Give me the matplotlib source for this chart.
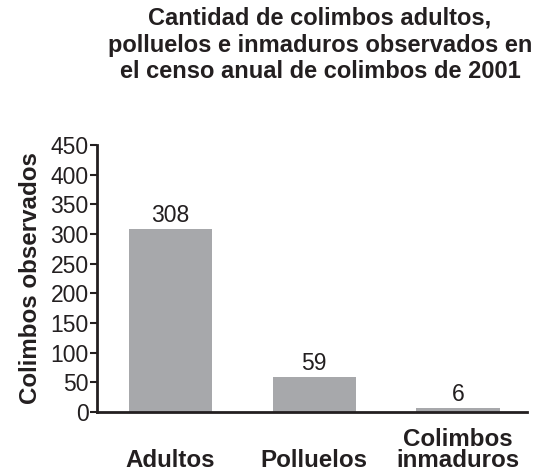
import matplotlib
matplotlib.use("Agg")
import matplotlib.pyplot as plt

plt.rcParams['font.family'] = ['Liberation Sans', 'DejaVu Sans']

categories = ["Adultos", "Polluelos", "Colimbos\ninmaduros"]
counts = [308, 59, 6]
yticks = [0, 50, 100, 150, 200, 250, 300, 350, 400, 450]
title = ("Cantidad de colimbos adultos,\n"
         "polluelos e inmaduros observados en\n"
         "el censo anual de colimbos de 2001")
ylabel = "Colimbos observados"

ink = "#231f20"
bar_color = "#a7a8ab"

fig = plt.figure(figsize=(5.36, 4.72), dpi=100)
ax = fig.add_axes([97 / 536, 1 - 412 / 472, 430 / 536, 267 / 472])

x = list(range(len(categories)))
ax.bar(x, counts, width=0.58, color=bar_color, zorder=2)

for xi, v in zip(x, counts):
    ax.annotate(str(v), (xi, v), xytext=(0, 1.5), textcoords="offset points",
                ha="center", va="bottom", fontsize=16.5, color=ink)

ax.set_xlim(-0.511, 2.48)
ax.set_ylim(0, 450)
ax.set_yticks(yticks)
ax.set_yticklabels([str(t) for t in yticks], fontsize=16.5, color=ink)
ax.set_xticks(x)
ax.set_xticklabels(categories, fontsize=17.4, fontweight="bold", color=ink,
                   linespacing=0.87)
for lbl in ax.get_xticklabels():
    lbl.set_va("bottom")
ax.tick_params(axis="x", length=0, pad=43)
ax.tick_params(axis="y", direction="out", length=5, width=1.5, color=ink, pad=1)

for side in ("top", "right"):
    ax.spines[side].set_visible(False)
for side in ("left", "bottom"):
    ax.spines[side].set_linewidth(2)
    ax.spines[side].set_color(ink)

ax.set_ylabel(ylabel, fontsize=17.4, fontweight="bold", color=ink)
ax.yaxis.set_label_coords(-0.128, 0.5)

fig.text(320 / 536, 1 - 7 / 472, title, ha="center", va="top", fontsize=17,
         fontweight="bold", color=ink, linespacing=1.2)

fig.savefig("out.png", dpi=100)
